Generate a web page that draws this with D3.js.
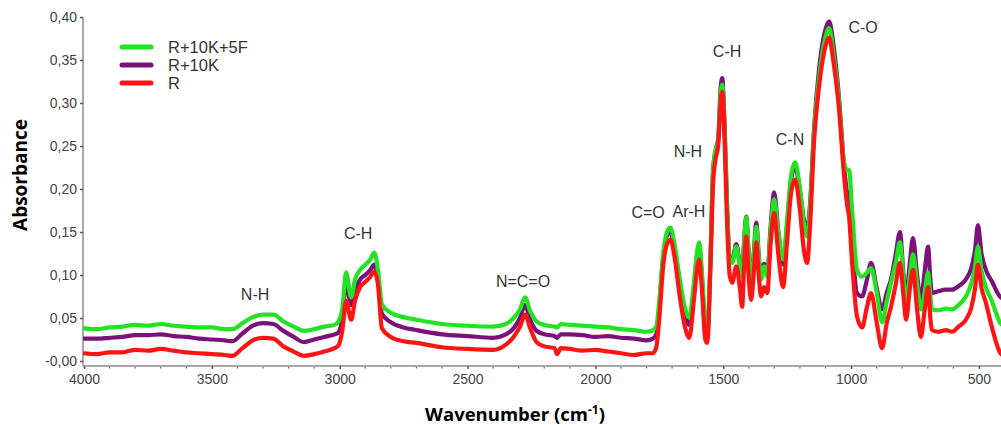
<!DOCTYPE html>
<html><head><meta charset="utf-8">
<script src="https://cdn.jsdelivr.net/npm/d3@7"></script>
<style>html,body{margin:0;padding:0;background:#fff;}svg{display:block;}</style>
</head><body>
<svg id="c" width="1001" height="425"></svg>
<script>
const wavenumber = [4000,3950,3900,3850,3800,3750,3700,3650,3600,3550,3500,3450,3420,3380,3340,3300,3260,3220,3180,3140,3100,3060,3020,3005,2990,2975,2955,2940,2920,2900,2880,2865,2850,2835,2800,2750,2700,2600,2500,2400,2350,2320,2295,2275,2255,2230,2200,2160,2150,2135,2100,2050,2000,1950,1900,1850,1800,1775,1762,1750,1735,1720,1707,1690,1670,1650,1633,1615,1600,1594,1585,1570,1563,1550,1540,1530,1520,1510,1504,1496,1485,1475,1465,1449,1435,1426,1418,1410,1400,1391,1380,1371,1360,1352,1340,1328,1315,1301,1285,1266,1250,1235,1219,1200,1185,1172,1160,1145,1125,1105,1086,1070,1047,1027,1015,1008,996,977,957,940,922,900,879,860,844,825,809,795,785,770,758,742,727,712,699,690,684,660,630,605,580,551,530,515,504,490,473,450,418,400];

const seriesGreen = [0.038,0.037,0.039,0.040,0.042,0.041,0.043,0.041,0.040,0.039,0.039,0.037,0.037,0.044,0.051,0.054,0.054,0.046,0.040,0.035,0.037,0.040,0.042,0.046,0.060,0.103,0.074,0.095,0.106,0.112,0.118,0.126,0.105,0.066,0.056,0.051,0.048,0.043,0.041,0.040,0.043,0.050,0.060,0.074,0.058,0.046,0.042,0.040,0.039,0.043,0.042,0.041,0.040,0.039,0.037,0.036,0.034,0.036,0.040,0.070,0.125,0.150,0.155,0.135,0.095,0.062,0.050,0.090,0.132,0.138,0.110,0.040,0.028,0.120,0.220,0.245,0.255,0.310,0.321,0.280,0.180,0.118,0.114,0.133,0.110,0.098,0.140,0.167,0.120,0.086,0.125,0.156,0.115,0.095,0.110,0.098,0.150,0.188,0.150,0.118,0.165,0.215,0.231,0.200,0.160,0.145,0.180,0.265,0.330,0.370,0.387,0.360,0.300,0.230,0.222,0.222,0.176,0.106,0.098,0.102,0.108,0.080,0.045,0.070,0.091,0.115,0.138,0.095,0.068,0.100,0.124,0.090,0.060,0.080,0.103,0.075,0.060,0.059,0.061,0.060,0.065,0.075,0.090,0.110,0.133,0.105,0.086,0.070,0.045,0.040];

const seriesPurple = [0.026,0.026,0.027,0.028,0.030,0.030,0.031,0.029,0.028,0.026,0.025,0.024,0.023,0.032,0.041,0.044,0.043,0.035,0.028,0.022,0.025,0.028,0.031,0.033,0.050,0.090,0.065,0.082,0.095,0.100,0.106,0.112,0.095,0.055,0.045,0.039,0.036,0.031,0.029,0.027,0.031,0.038,0.050,0.065,0.048,0.035,0.031,0.029,0.027,0.031,0.031,0.030,0.028,0.029,0.027,0.026,0.024,0.026,0.031,0.065,0.120,0.146,0.150,0.130,0.090,0.055,0.042,0.085,0.128,0.133,0.105,0.035,0.025,0.118,0.220,0.245,0.258,0.318,0.329,0.285,0.180,0.120,0.117,0.136,0.112,0.100,0.142,0.168,0.122,0.090,0.128,0.161,0.118,0.098,0.113,0.100,0.155,0.196,0.152,0.112,0.160,0.210,0.226,0.198,0.165,0.153,0.185,0.270,0.340,0.380,0.395,0.370,0.305,0.225,0.195,0.191,0.138,0.079,0.075,0.092,0.114,0.085,0.060,0.080,0.095,0.125,0.150,0.100,0.075,0.115,0.143,0.100,0.071,0.105,0.133,0.095,0.079,0.081,0.083,0.083,0.087,0.095,0.108,0.130,0.158,0.125,0.106,0.093,0.075,0.072];

const seriesRed = [0.009,0.008,0.010,0.010,0.013,0.012,0.014,0.012,0.010,0.009,0.008,0.007,0.006,0.015,0.024,0.027,0.026,0.017,0.011,0.006,0.008,0.011,0.015,0.018,0.035,0.070,0.048,0.070,0.086,0.092,0.098,0.104,0.088,0.038,0.028,0.023,0.021,0.016,0.014,0.013,0.019,0.028,0.040,0.054,0.038,0.022,0.017,0.015,0.008,0.015,0.014,0.012,0.013,0.011,0.009,0.007,0.009,0.009,0.016,0.050,0.110,0.136,0.141,0.120,0.075,0.040,0.027,0.070,0.112,0.118,0.090,0.025,0.021,0.110,0.205,0.235,0.250,0.300,0.313,0.270,0.160,0.100,0.091,0.110,0.085,0.063,0.115,0.145,0.095,0.071,0.105,0.138,0.095,0.075,0.086,0.079,0.135,0.172,0.125,0.086,0.140,0.195,0.211,0.175,0.130,0.114,0.160,0.255,0.320,0.360,0.376,0.350,0.292,0.214,0.180,0.168,0.114,0.052,0.039,0.060,0.079,0.045,0.015,0.045,0.063,0.090,0.114,0.075,0.048,0.085,0.106,0.060,0.028,0.060,0.086,0.050,0.036,0.034,0.036,0.034,0.040,0.048,0.062,0.085,0.112,0.085,0.068,0.040,0.010,0.005];

const seriesNames = ["R+10K+5F","R+10K","R"];
const seriesColors = ["#22e322","#7a127a","#ff1414"];
const xTickValues = [4000,3500,3000,2500,2000,1500,1000,500];
const xTickLabels = ["4000","3500","3000","2500","2000","1500","1000","500"];
const yTickValues = [0,0.05,0.10,0.15,0.20,0.25,0.30,0.35,0.40];
const yTickLabels = ["-0,00","0,05","0,10","0,15","0,20","0,25","0,30","0,35","0,40"];
const annLabels = ["N-H","C-H","N=C=O","C=O","Ar-H","N-H","C-H","C-N","C-O"];
const annWn = [3331,2928,2283,1794,1634,1638,1485,1239,953];
const annVal = [0.071,0.142,0.086,0.166,0.167,0.237,0.353,0.251,0.381];

const svg = d3.select("#c");
const x = d3.scaleLinear().domain([4000,400]).range([84,84+3600*0.2557]);
const y = d3.scaleLinear().domain([0,0.40]).range([361,17]);
const axisColor = "#a8a8a8";
const plotBottom = 366, plotLeft = 83;

svg.append("defs").append("clipPath").attr("id","clip")
  .append("rect").attr("x",plotLeft).attr("y",0).attr("width",1001-plotLeft).attr("height",plotBottom);

svg.append("line").attr("x1",plotLeft).attr("x2",1001).attr("y1",plotBottom).attr("y2",plotBottom)
  .attr("stroke",axisColor).attr("stroke-width",2);
svg.append("line").attr("x1",plotLeft).attr("x2",plotLeft).attr("y1",17).attr("y2",plotBottom)
  .attr("stroke",axisColor).attr("stroke-width",2);

const xAxis = d3.axisBottom(x).tickValues(xTickValues).tickFormat((d,i)=>xTickLabels[i]).tickSize(3).tickPadding(5);
const gx = svg.append("g").attr("transform",`translate(0,${plotBottom})`).call(xAxis);
gx.select(".domain").remove();
gx.selectAll(".tick line").attr("stroke","#555").attr("stroke-width",1.5);
gx.selectAll(".tick text").attr("fill","#444").style("font-family","Liberation Sans, Arial, sans-serif").style("font-size","14px");
const minor = d3.range(3900,400,-100).filter(v=>v%500!==0);
svg.append("g").selectAll("line").data(minor).join("line")
  .attr("x1",d=>x(d)).attr("x2",d=>x(d)).attr("y1",plotBottom+1).attr("y2",plotBottom+2.5)
  .attr("stroke","#666").attr("stroke-width",1.2);

const yAxis = d3.axisLeft(y).tickValues(yTickValues).tickFormat((d,i)=>yTickLabels[i]).tickSize(3).tickPadding(3);
const gy = svg.append("g").attr("transform",`translate(${plotLeft},0)`).call(yAxis);
gy.select(".domain").remove();
gy.selectAll(".tick line").attr("stroke","#555").attr("stroke-width",1.5);
gy.selectAll(".tick text").attr("fill","#444").style("font-family","Liberation Sans, Arial, sans-serif").style("font-size","14px");

const allSeries = [seriesGreen, seriesPurple, seriesRed];
const order = [1,0,2];
const line = d3.line().x(d=>x(d[0])).y(d=>y(d[1])).curve(d3.curveMonotoneX);
const gLines = svg.append("g").attr("clip-path","url(#clip)");
order.forEach(i=>{
  const pts = wavenumber.map((w,k)=>[w, allSeries[i][k]]);
  gLines.append("path").datum(pts).attr("d",line).attr("fill","none")
    .attr("stroke",seriesColors[i]).attr("stroke-width",4.2).attr("stroke-linejoin","round").attr("stroke-linecap","round");
});

svg.append("g").selectAll("text").data(annLabels).join("text")
  .attr("x",(d,i)=>x(annWn[i])).attr("y",(d,i)=>y(annVal[i]))
  .attr("text-anchor","middle").attr("fill","#333")
  .style("font-family","Liberation Sans, Arial, sans-serif").style("font-size","16px")
  .text(d=>d);

const lg = svg.append("g");
seriesNames.forEach((n,i)=>{
  const yy = 47 + i*18;
  lg.append("line").attr("x1",122).attr("x2",151).attr("y1",yy).attr("y2",yy)
    .attr("stroke",seriesColors[i]).attr("stroke-width",5).attr("stroke-linecap","round");
  lg.append("text").attr("x",168).attr("y",yy+6).attr("fill","#333")
    .style("font-family","Liberation Sans, Arial, sans-serif").style("font-size","16.5px").text(n);
});

svg.append("text").attr("transform","translate(27,175) rotate(-90)").attr("text-anchor","middle")
  .attr("fill","#000").style("font-family","Open Sans, sans-serif").style("font-weight","bold").style("font-size","19px")
  .text("Absorbance");
const xt = svg.append("text").attr("x",515).attr("y",421).attr("text-anchor","middle")
  .attr("fill","#000").style("font-family","Open Sans, sans-serif").style("font-weight","bold").style("font-size","18.5px");
xt.append("tspan").text("Wavenumber (cm");
xt.append("tspan").attr("dy",-7).style("font-size","12px").text("-1");
xt.append("tspan").attr("dy",7).text(")");
</script>
</body></html>
